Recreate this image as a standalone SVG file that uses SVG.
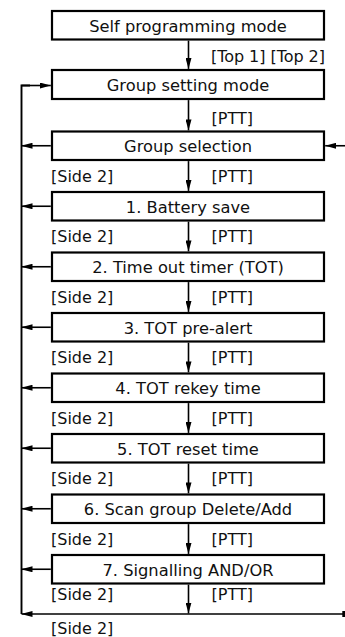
<svg xmlns="http://www.w3.org/2000/svg" width="345" height="637" viewBox="0 0 345 637">
<style>
.box{fill:#fff;stroke:#000;stroke-width:2.2}
.t{font-family:"DejaVu Sans",sans-serif;font-size:16px;fill:#111}
.c{text-anchor:middle;font-size:16.3px}
.ln{fill:none;stroke:#000;stroke-width:1.6}
.arr{marker-end:url(#ah)}
</style>
<defs>
<marker id="ah" markerUnits="userSpaceOnUse" markerWidth="11" markerHeight="6" refX="11" refY="3" orient="auto">
<path d="M0,0 L11,3 L0,6 Z" fill="#000"/>
</marker>
</defs>
<rect width="345" height="637" fill="#fff"/>
<g id="connectors">
<path class="ln arr" d="M188.5,40.6 V68.9"/>
<path class="ln arr" d="M188.5,100.1 V130.4"/>
<path class="ln arr" d="M188.5,161.1 V190.9"/>
<path class="ln arr" d="M188.5,221.6 V251.4"/>
<path class="ln arr" d="M188.5,282.1 V311.9"/>
<path class="ln arr" d="M188.5,342.6 V372.4"/>
<path class="ln arr" d="M188.5,403.1 V432.9"/>
<path class="ln arr" d="M188.5,463.6 V493.4"/>
<path class="ln arr" d="M188.5,524.1 V553.9"/>
<path class="ln arr" d="M188.5,584.6 V613.5"/>
<path class="ln" style="stroke-width:1.9" d="M21.5,614 V85.5 H30"/>
<path class="ln arr" d="M21.5,85.5 H50.8"/>
<path class="ln arr" d="M50.8,145.75 H21.5"/>
<path class="ln arr" d="M50.8,206.25 H21.5"/>
<path class="ln arr" d="M50.8,266.75 H21.5"/>
<path class="ln arr" d="M50.8,327.25 H21.5"/>
<path class="ln arr" d="M50.8,387.75 H21.5"/>
<path class="ln arr" d="M50.8,448.25 H21.5"/>
<path class="ln arr" d="M50.8,508.75 H21.5"/>
<path class="ln arr" d="M50.8,569.25 H21.5"/>
<path class="ln arr" d="M345,145.75 H325.2"/>
<path class="ln arr" d="M343,614 H21.5"/>
<rect x="342.3" y="611" width="2.7" height="6" fill="#000"/>
<text class="t" x="211" y="61.5" textLength="114">[Top 1] [Top 2]</text>
<text class="t" x="211.5" y="123.5">[PTT]</text>
<text class="t" x="51" y="181.5">[Side 2]</text><text class="t" x="211.5" y="181.5">[PTT]</text>
<text class="t" x="51" y="242">[Side 2]</text><text class="t" x="211.5" y="242">[PTT]</text>
<text class="t" x="51" y="302.5">[Side 2]</text><text class="t" x="211.5" y="302.5">[PTT]</text>
<text class="t" x="51" y="363">[Side 2]</text><text class="t" x="211.5" y="363">[PTT]</text>
<text class="t" x="51" y="423.5">[Side 2]</text><text class="t" x="211.5" y="423.5">[PTT]</text>
<text class="t" x="51" y="484">[Side 2]</text><text class="t" x="211.5" y="484">[PTT]</text>
<text class="t" x="51" y="544.5">[Side 2]</text><text class="t" x="211.5" y="544.5">[PTT]</text>
<text class="t" x="51" y="600">[Side 2]</text><text class="t" x="211.5" y="600">[PTT]</text>
<text class="t" x="51" y="634">[Side 2]</text>
</g>
<g id="self-programming-mode"><rect class="box" x="52" y="11" width="272" height="28.5"/><text class="t c" x="188" y="32">Self programming mode</text></g>
<g id="group-setting-mode"><rect class="box" x="52" y="70" width="272" height="29"/><text class="t c" x="188" y="91">Group setting mode</text></g>
<g id="group-selection"><rect class="box" x="52" y="131.5" width="272" height="28.5"/><text class="t c" x="188" y="152">Group selection</text></g>
<g id="battery-save"><rect class="box" x="52" y="192" width="272" height="28.5"/><text class="t c" x="188" y="212.5">1. Battery save</text></g>
<g id="time-out-timer"><rect class="box" x="52" y="252.5" width="272" height="28.5"/><text class="t c" x="188" y="273">2. Time out timer (TOT)</text></g>
<g id="tot-pre-alert"><rect class="box" x="52" y="313" width="272" height="28.5"/><text class="t c" x="188" y="333.5">3. TOT pre-alert</text></g>
<g id="tot-rekey-time"><rect class="box" x="52" y="373.5" width="272" height="28.5"/><text class="t c" x="188" y="394">4. TOT rekey time</text></g>
<g id="tot-reset-time"><rect class="box" x="52" y="434" width="272" height="28.5"/><text class="t c" x="188" y="454.5">5. TOT reset time</text></g>
<g id="scan-group"><rect class="box" x="52" y="494.5" width="272" height="28.5"/><text class="t c" x="188" y="515">6. Scan group Delete/Add</text></g>
<g id="signalling"><rect class="box" x="52" y="555" width="272" height="28.5"/><text class="t c" x="188" y="575.5">7. Signalling AND/OR</text></g>
</svg>
